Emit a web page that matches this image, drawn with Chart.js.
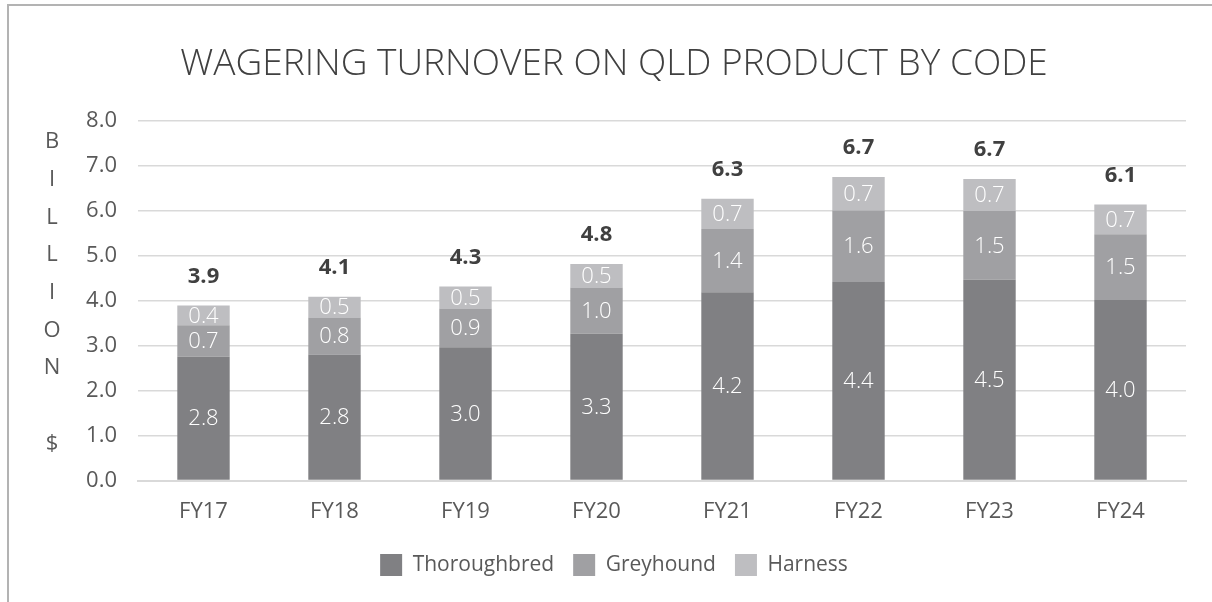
<!DOCTYPE html>
<html>
<head>
<meta charset="utf-8">
<script src="https://cdn.jsdelivr.net/npm/chart.js@4.4.1/dist/chart.umd.min.js"></script>
<style>
  html, body { margin: 0; padding: 0; background: #ffffff; }
  #wrap { position: relative; width: 1212px; height: 602px; }
</style>
</head>
<body>
<div id="wrap"><canvas id="turnover"></canvas></div>
<script>
// chart data (billion $)
const categories = ["FY17", "FY18", "FY19", "FY20", "FY21", "FY22", "FY23", "FY24"];
const thoroughbred = [2.75, 2.80, 2.96, 3.26, 4.18, 4.41, 4.46, 4.01];
const greyhound = [0.70, 0.82, 0.86, 1.03, 1.41, 1.59, 1.53, 1.46];
const harness = [0.44, 0.46, 0.49, 0.52, 0.67, 0.74, 0.71, 0.66];
const yTicks = [0, 1, 2, 3, 4, 5, 6, 7, 8];
const chartTitle = "WAGERING TURNOVER ON QLD PRODUCT BY CODE";
const yTitle = "BILLION $";

Chart.defaults.font.family = "'Open Sans', sans-serif";
Chart.defaults.color = "#595959";

//frame line on top and left
const framePlugin = {
  id: "frame",
  beforeDraw(chart) {
    const c = chart.ctx;
    c.save();
    c.strokeStyle = "#b3b3b3";
    c.lineWidth = 2;
    c.beginPath();
    c.moveTo(8, 602);
    c.lineTo(8, 5);
    c.lineTo(1212, 5);
    c.stroke();
    c.restore();
  }
};

//vertical letters of the y title + values inside bars + totals on top
const labelPlugin = {
  id: "labels",
  afterDatasetsDraw(chart) {
    const c = chart.ctx;
    c.save();
    c.textAlign = "center";
    c.textBaseline = "middle";

    //y title, one letter per line
    c.fillStyle = "#595959";
    c.font = "22px 'Open Sans', sans-serif";
    var chars = yTitle.split("");
    for (let i = 0; i < chars.length; i++) {
      if (chars[i] == " ") continue;
      c.fillText(chars[i], 52, 142 + i * 37.7);
    }

    //segment values
    c.fillStyle = "#ffffff";
    c.font = "300 22px 'Open Sans', sans-serif";
    chart.data.datasets.forEach((ds, di) => {
      const meta = chart.getDatasetMeta(di);
      meta.data.forEach((bar, i) => {
        const mid = (bar.y + bar.base) / 2;
        c.fillText(ds.data[i].toFixed(1), bar.x, mid + 1);
      });
    });

    //totals
    c.fillStyle = "#404040";
    c.font = "bold 22px 'Open Sans', sans-serif";
    const topMeta = chart.getDatasetMeta(chart.data.datasets.length - 1);
    topMeta.data.forEach((bar, i) => {
      const total = thoroughbred[i] + greyhound[i] + harness[i];
      c.fillText(total.toFixed(1), bar.x, bar.y - 29);
    });
    c.restore();
  }
};

const ctx = document.getElementById("turnover");
let myChart = new Chart(ctx, {
  type: "bar",
  plugins: [framePlugin, labelPlugin],
  data: {
    labels: categories,
    datasets: [
      { label: "Thoroughbred", data: thoroughbred, backgroundColor: "#808083" },
      { label: "Greyhound", data: greyhound, backgroundColor: "#a0a0a3" },
      { label: "Harness", data: harness, backgroundColor: "#bebec1" }
    ]
  },
  options: {
    responsive: true,
    maintainAspectRatio: false,
    animation: false,
    layout: { padding: { left: 42, right: 26, top: 0, bottom: 16 } },
    datasets: {
      bar: { barPercentage: 0.4, categoryPercentage: 1.0, borderWidth: 0 }
    },
    scales: {
      x: {
        stacked: true,
        afterFit(axis) { axis.height = 54.5; },
        grid: { display: false, drawTicks: false },
        border: { display: true, color: "#d9d9d9", width: 2 },
        ticks: { font: { size: 22 }, color: "#595959", padding: 18 }
      },
      y: {
        stacked: true,
        min: 0,
        max: 8,
        afterBuildTicks(axis) {
          axis.ticks = yTicks.map(v => ({ value: v }));
        },
        afterFit(axis) { axis.width = 96; },
        grid: { color: "#d9d9d9", lineWidth: 1.5, drawTicks: false },
        border: { display: false },
        ticks: {
          font: { size: 22 },
          color: "#595959",
          padding: 21,
          callback: (v) => Number(v).toFixed(1)
        }
      }
    },
    plugins: {
      tooltip: { enabled: false },
      title: {
        display: true,
        text: chartTitle,
        color: "#404040",
        font: { size: 37, weight: "300" },
        padding: { top: 42, bottom: 34 }
      },
      legend: {
        position: "bottom",
        labels: {
          boxWidth: 22,
          boxHeight: 22,
          padding: 19,
          color: "#595959",
          font: { size: 21 }
        }
      }
    }
  }
});
</script>
</body>
</html>
